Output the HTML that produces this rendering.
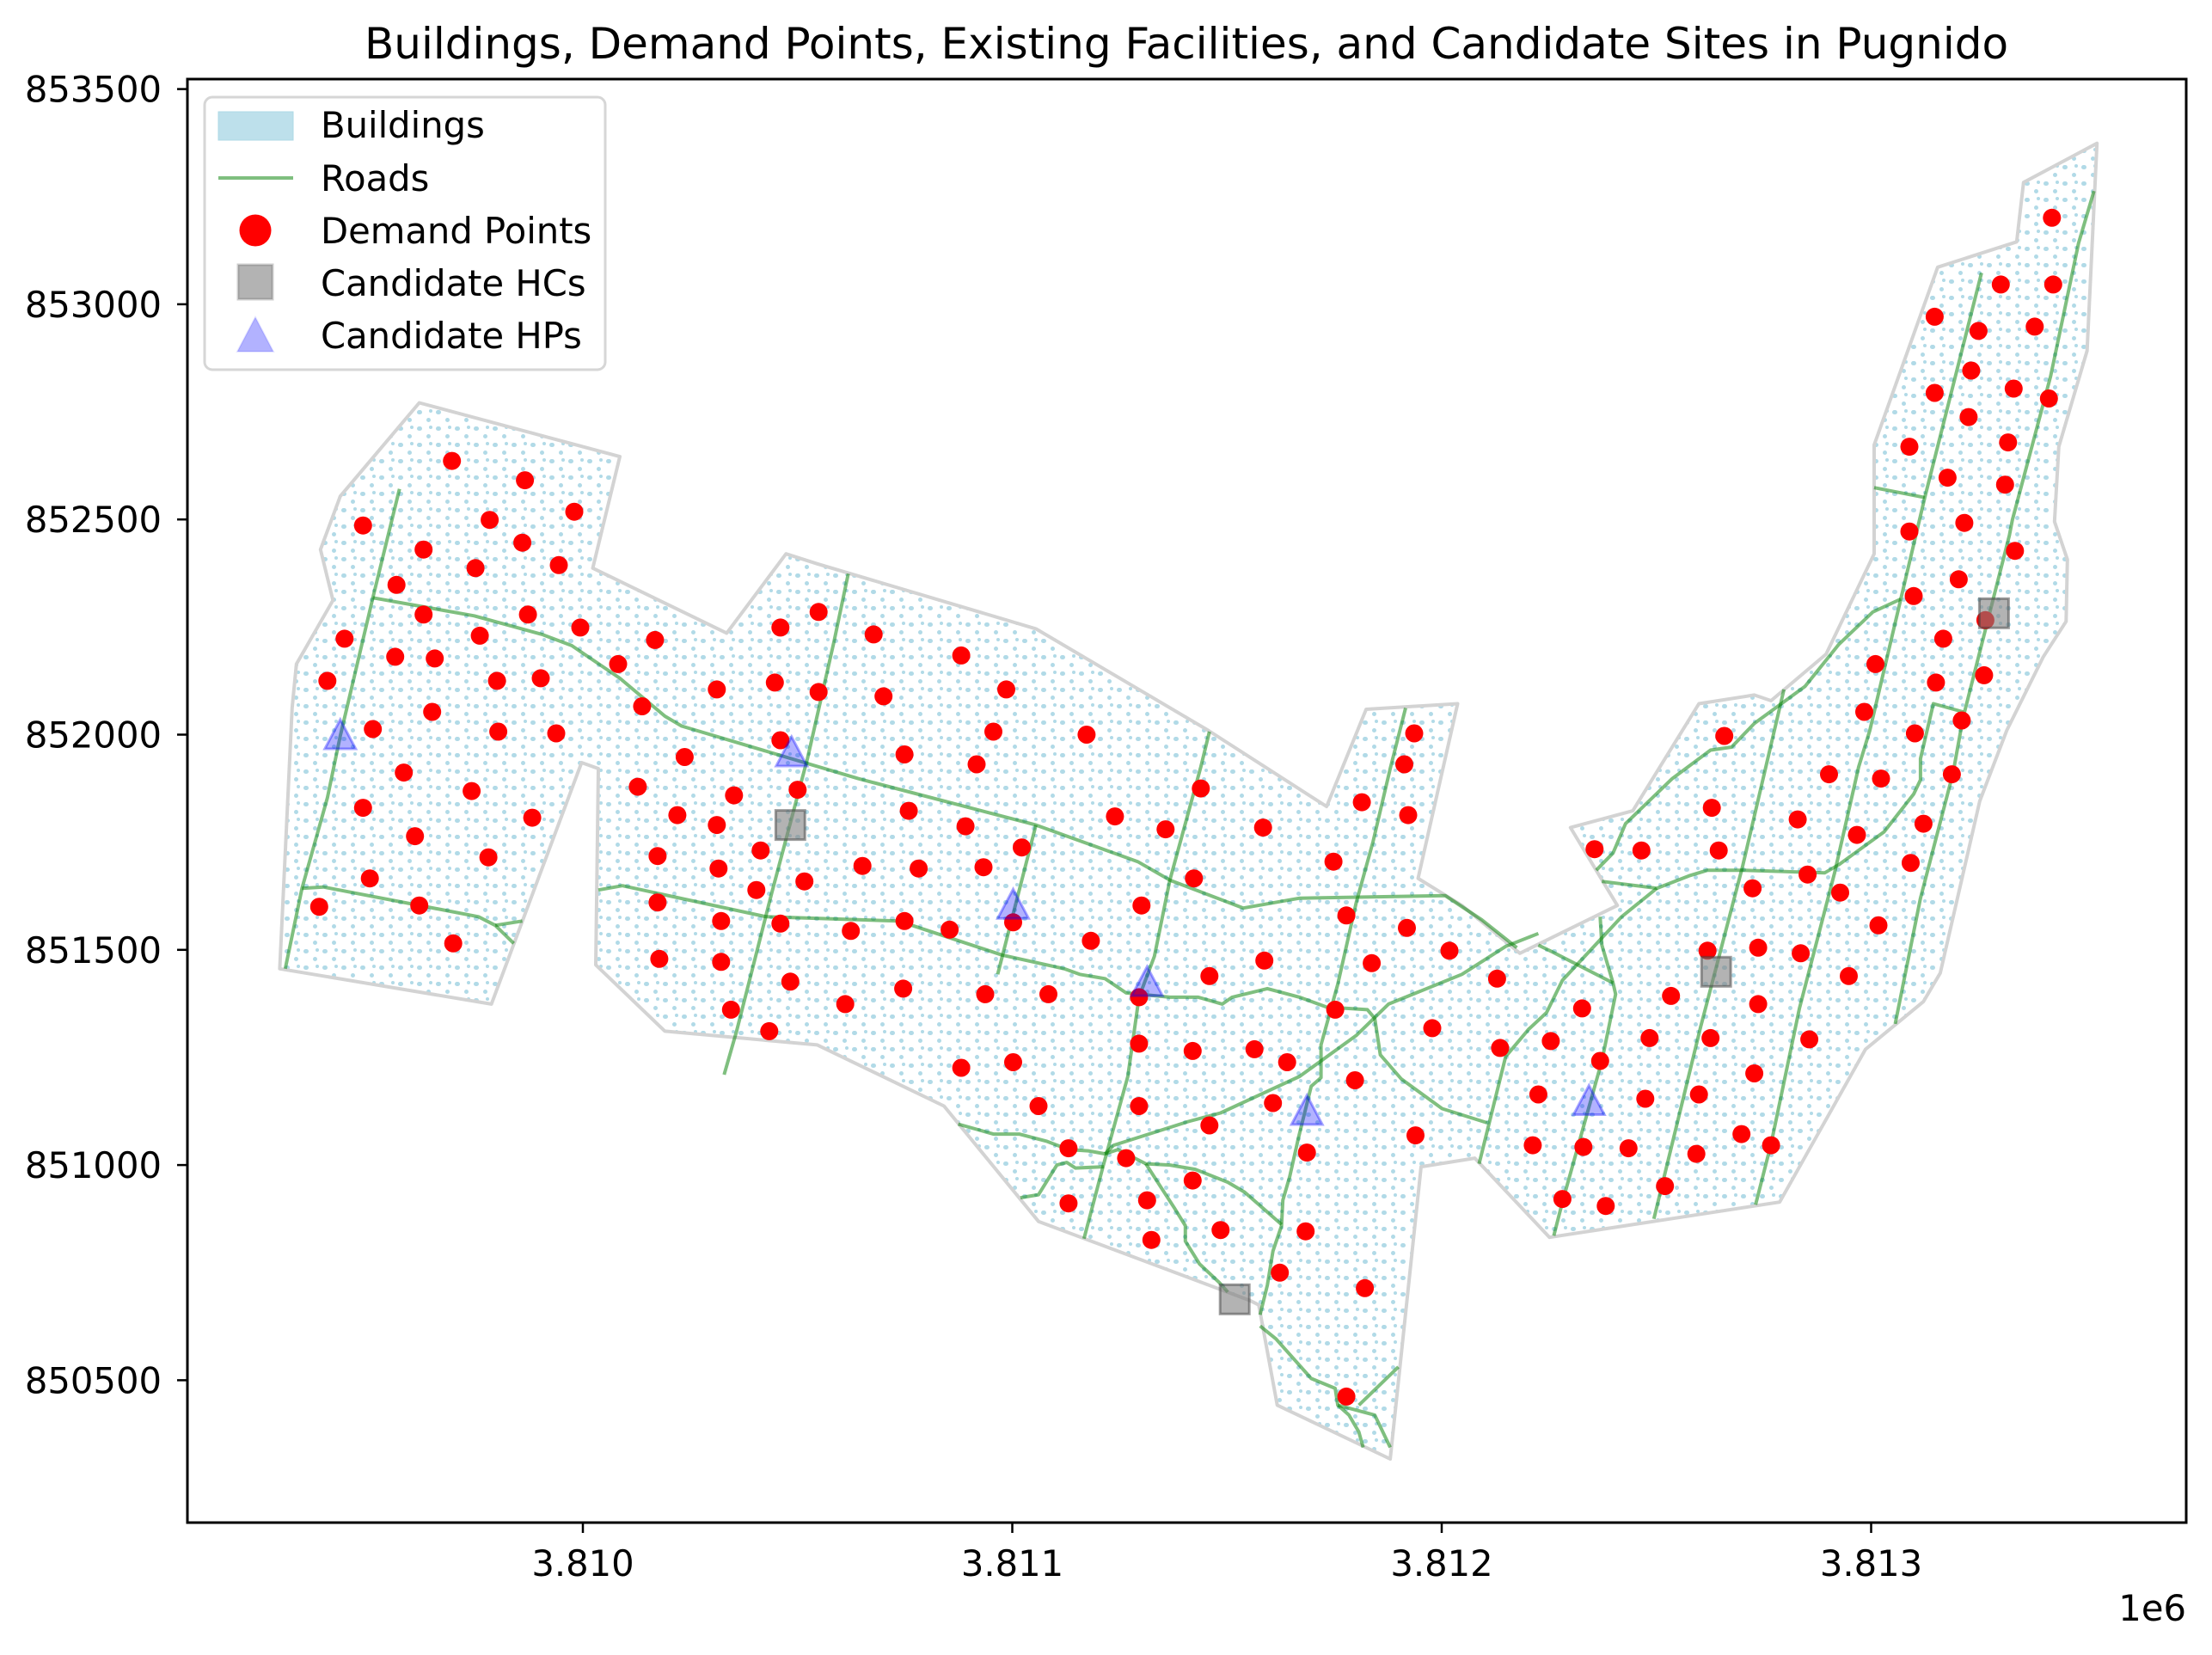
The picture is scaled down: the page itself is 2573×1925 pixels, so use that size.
<!DOCTYPE html>
<html><head><meta charset="utf-8"><title>Pugnido map</title>
<style>
html,body{margin:0;padding:0;background:#fff;}
svg{display:block;font-family:"DejaVu Sans","Liberation Sans",sans-serif;}
</style></head>
<body>
<svg id="chart" width="2573" height="1925" viewBox="0 0 2573 1925" xmlns="http://www.w3.org/2000/svg">
<defs>
<pattern id="bldg" width="22" height="19" patternUnits="userSpaceOnUse">
<rect x="1" y="2" width="6" height="5" rx="2.5" fill="#add8e6"/>
<rect x="12" y="11" width="5" height="5" rx="2.5" fill="#add8e6"/>
<rect x="15" y="1" width="4" height="4" rx="2" fill="#add8e6"/>
</pattern>
<clipPath id="plotclip"><rect x="218" y="92" width="2325" height="1679"/></clipPath>
</defs>
<rect x="0" y="0" width="2573" height="1925" fill="#fff"/>
<text x="1380" y="68" font-size="50" text-anchor="middle" fill="#000">Buildings, Demand Points, Existing Facilities, and Candidate Sites in Pugnido</text>
<g id="plot" clip-path="url(#plotclip)"></g>
<rect x="218" y="92" width="2325" height="1679" fill="none" stroke="#000" stroke-width="3"/>
<g id="axes"></g>
<g>
<rect x="238" y="113" width="466" height="317" rx="9" fill="#fff" fill-opacity="0.8" stroke="#d6d6d6" stroke-width="3"/>
<rect x="254" y="130" width="87" height="33" fill="#add8e6" fill-opacity="0.8" stroke="#add8e6"/>
<text x="373" y="160" font-size="41.7">Buildings</text>
<line x1="254" y1="207" x2="341" y2="207" stroke="#008000" stroke-opacity="0.5" stroke-width="4"/>
<text x="373" y="222" font-size="41.7">Roads</text>
<circle cx="297" cy="268" r="18.5" fill="#ff0000"/>
<text x="373" y="283" font-size="41.7">Demand Points</text>
<rect x="277" y="308" width="40" height="40" fill="#808080" fill-opacity="0.6" stroke="#808080" stroke-opacity="0.4" stroke-width="3"/>
<text x="373" y="344" font-size="41.7">Candidate HCs</text>
<polygon points="297,369 318,409 276,409" fill="#0000ff" fill-opacity="0.3" stroke="#0000ff" stroke-opacity="0.1" stroke-width="2"/>
<text x="373" y="405" font-size="41.7">Candidate HPs</text>
</g>
</svg>
<script>
// Data: eastings are metres offset from E_BASE, northings metres offset from N_BASE
const E_BASE = 3809000;
const N_BASE = 850000;
const xTicks = [3810000, 3811000, 3812000, 3813000];
const xTickLabels = ["3.810", "3.811", "3.812", "3.813"];
const yTicks = [850500, 851000, 851500, 852000, 852500, 853000, 853500];
const yTickLabels = ["850500", "851000", "851500", "852000", "852500", "853000", "853500"];

const boundaryE = [619,1086,1023,1335,1473,1546,2055,2456,2732,2824,3037,2945,3047,3182,3409,3300,3445,3599,3728,3767,3895,4007,4007,4155,4339,4355,4526,4503,4437,4427,4457,4454,4401,4316,4253,4161,4122,3987,3787,3251,3077,2952,2880,2617,2574,2554,2061,1841,1546,1191,1030,1036,997,787,294,323,333,418,389,435];
const boundaryN = [2771,2646,2387,2236,2420,2397,2246,2010,1833,2059,2072,1666,1603,1492,1603,1784,1823,2072,2092,2079,2187,2420,2673,3086,3145,3283,3374,2892,2669,2495,2407,2263,2181,2010,1846,1446,1380,1269,914,832,1016,996,317,442,675,685,869,1137,1279,1311,1465,1921,1935,1374,1456,2062,2164,2312,2430,2554];

const roadsE = [
 [573,511,435,405,346,307],
 [511,747,905,974,1086,1191,1230,1641,2055,2292,2367,2538,2669,3008,3093,3175],
 [346,396,757,796,839],
 [796,859],
 [1036,1092,1427,1736,1976,2121,2157,2216,2265,2367,2433,2489,2512,2594,2669,2732,2827,2844,2857,2906,3001,3106],
 [1618,1585,1523,1440,1358,1329],
 [2055,1966],
 [2459,2439,2367,2331,2295,2269,2213,2167],
 [2916,2880,2840,2801,2758,2719,2719,2696,2666,2646,2630,2627,2607,2594,2577],
 [3225,3149,3047,2876,2801,2669,2485,2410,2236,2216],
 [3360,3399,3428,3537,3626,3675,3728,3846,3925,4004,4069],
 [3373,3501,3576,3619,3701,3892,3925,4030,4099,4115,4115,4145,4214],
 [3501,3419,3281,3244,3202,3149,3087],
 [3797,3701,3603,3494],
 [4257,4125,4069,3997,3971,3915,3833,3767,3731],
 [4519,4483,4418,4329,4322,4214,4191,4115,4056],
 [4007,4125],
 [3369,3373,3399,3405,3373,3281,3261],
 [3225,3258,3399],
 [1874,1956,2016,2081,2131,2177,2216,2246,2311,2367,2426,2502,2541,2627],
 [2311,2347,2377,2403,2403,2436,2482,2502],
 [2019,2061,2104,2127,2147,2213],
 [2577,2614,2696,2752,2758,2784,2807,2817],
 [2758,2844,2880],
 [2807,2899]
];
const roadsN = [
 [2571,2318,1997,1853,1643,1456],
 [2318,2276,2233,2207,2131,2043,2020,1898,1790,1705,1662,1597,1620,1626,1570,1505],
 [1643,1646,1577,1557,1515],
 [1557,1567],
 [1639,1649,1577,1567,1488,1456,1443,1433,1400,1390,1390,1374,1390,1410,1390,1367,1361,1341,1256,1200,1131,1098],
 [2374,2217,1944,1633,1311,1210],
 [1790,1443],
 [2007,1925,1662,1485,1390,1206,1003,829],
 [2062,1921,1751,1610,1420,1279,1203,1183,1062,973,918,859,800,721,652],
 [1538,1508,1443,1374,1301,1206,1121,1101,1046,1026],
 [1685,1725,1793,1898,1964,1971,2026,2112,2210,2285,2315],
 [1659,1643,1672,1685,1685,1679,1698,1774,1862,1895,1944,2072,2053],
 [1643,1577,1429,1354,1315,1252,1003],
 [2105,1695,1321,875],
 [3073,2551,2315,2010,1925,1679,1364,1049,908],
 [3263,3142,2833,2499,2463,2039,1912,1620,1328],
 [2574,2551],
 [1577,1511,1423,1397,1242,914,836],
 [1511,1495,1423],
 [1095,1072,1072,1055,1036,1033,1026,1036,1003,1000,990,960,937,862],
 [1003,947,901,859,823,770,727,705],
 [924,931,1000,1006,993,996],
 [626,596,504,481,442,419,380,344],
 [442,419,344],
 [442,531]
];

const demandE = [695,865,980,488,783,859,629,750,944,566,629,872,994,760,445,563,655,800,902,405,649,511,803,938,583,741,488,882,609,780,504,619,386,698,
1082,1168,1460,1549,1677,1881,1986,1138,1312,1447,1549,1700,1956,2173,1749,1917,1237,1460,1128,1352,1500,1220,1312,1759,1891,2022,1651,1782,1933,1414,1174,1316,1516,1404,1174,1322,1460,1749,2002,1624,1854,1178,1322,1483,1746,1937,2084,1611,1345,1434,1881,2002,2061,2131,2265,2131,2314,2324,2420,2485,2459,2295,2295,2295,2301,2239,2357,2439,2423,2584,2183,2459,2587,2420,2564,2640,2607,2686,2798,2752,2683,2623,2821,2778,2748,2778,2837,2919,3018,2814,2922,2913,2936,2978,2939,3129,
3136,3225,3212,3254,3327,3369,3330,3435,3281,3382,3474,3484,3534,3520,3593,3599,3626,3698,3767,3728,3737,3619,3737,3836,3856,3948,3724,3852,3928,4017,3629,3829,3967,4122,4092,3356,3465,3645,3658,3902,4023,4188,4102,3984,4211,4010,4151,4263,4168,4099,4204,4266,4335,4089,4217,4312,4178,4089,4319,4227,4148,4414,4332,4233,4250,4381,4148,4302,4424,4421];
const demandN = [2636,2591,2518,2486,2499,2446,2430,2387,2394,2348,2279,2279,2249,2230,2223,2181,2177,2125,2131,2125,2053,2013,2007,2003,1912,1869,1830,1807,1764,1715,1666,1603,1600,1515,
2164,2220,2249,2285,2233,2184,2105,2066,2105,2121,2099,2089,2007,2000,1954,1931,1948,1987,1879,1859,1872,1813,1790,1823,1787,1738,1695,1689,1692,1731,1718,1689,1659,1639,1610,1567,1561,1567,1564,1544,1547,1479,1472,1426,1410,1397,1397,1374,1361,1311,1226,1239,1137,1039,1016,911,918,826,964,849,1092,1137,1282,1390,1603,1810,1780,1875,1666,1784,1521,1439,1475,1265,1269,1239,1144,1029,1197,1361,846,750,714,462,1705,1580,1469,1551,1498,1843,1813,1931,2003,1318,1069,1433,
1272,1164,1046,1288,1364,1242,1042,1039,921,905,1154,1295,1393,951,1026,1164,1295,1072,1046,1213,1374,1498,1505,1492,1292,1439,1643,1675,1633,1557,1830,1803,1767,1793,1702,1734,1731,1731,1997,1908,1898,1908,2003,2053,2033,2164,2121,2138,2223,2322,2361,2266,2427,2472,2492,2581,2597,2669,2679,2738,2794,2781,2804,2846,2938,2948,2971,3046,3046,3201];

const hcE = [1483,2518,3639,4286];
const hcN = [1790,688,1449,2282];
const hpE = [435,1486,2002,2314,2686,3343];
const hpN = [1997,1957,1603,1423,1124,1147];

// axis functions
function xScale(e){ return 678 + (e - 3810000) * 0.4995; }
function yScale(n){ return 854.5 - (n - 852000) * 0.5006; }
function X(off){ return xScale(E_BASE + off); }
function Y(off){ return yScale(N_BASE + off); }

const NS = "http://www.w3.org/2000/svg";
const plot = document.getElementById('plot');
const axes = document.getElementById('axes');
function mk(tag, attrs, parent){
  const el = document.createElementNS(NS, tag);
  for (const k in attrs) el.setAttribute(k, attrs[k]);
  parent.appendChild(el);
  return el;
}

// buildings (textured area within study boundary) and boundary
let bpts = boundaryE.map((e,i)=>X(e).toFixed(1)+','+Y(boundaryN[i]).toFixed(1)).join(' ');
const bfill = mk('polygon', {points:bpts, fill:'url(#bldg)', 'fill-opacity':'0.95', stroke:'none'}, plot);


const bline = mk('polygon', {points:bpts, fill:'none', stroke:'#d3d3d3', 'stroke-width':'4', 'stroke-linejoin':'round'}, plot);



// roads
for (let r = 0; r < roadsE.length; r++){
  const pts = roadsE[r].map((e,i)=>X(e).toFixed(1)+','+Y(roadsN[r][i]).toFixed(1)).join(' ');
  const pl = mk('polyline', {points:pts, fill:'none', stroke:'#008000', 'stroke-opacity':'0.5', 'stroke-width':'4', 'stroke-linejoin':'round', 'stroke-linecap':'butt'}, plot);
  
  
}

// demand points
for (let i = 0; i < demandE.length; i++){
  const c = mk('circle', {cx:X(demandE[i]).toFixed(1), cy:Y(demandN[i]).toFixed(1), r:'10.5', fill:'#ff0000'}, plot);
  
  
}

// candidate HCs
for (let i = 0; i < hcE.length; i++){
  const cx = X(hcE[i]), cy = Y(hcN[i]);
  const s = mk('rect', {x:(cx-17).toFixed(1), y:(cy-17).toFixed(1), width:'34', height:'34', fill:'#808080', 'fill-opacity':'0.6', stroke:'#404040', 'stroke-opacity':'0.5', 'stroke-width':'3'}, plot);
  
  
}

// candidate HPs
for (let i = 0; i < hpE.length; i++){
  const cx = X(hpE[i]), cy = Y(hpN[i]);
  const pts = cx.toFixed(1)+','+(cy-19).toFixed(1)+' '+(cx+18).toFixed(1)+','+(cy+15).toFixed(1)+' '+(cx-18).toFixed(1)+','+(cy+15).toFixed(1);
  const t = mk('polygon', {points:pts, fill:'#0000ff', 'fill-opacity':'0.3', stroke:'#0000ff', 'stroke-opacity':'0.35', 'stroke-width':'3'}, plot);
  
  
}

// x ticks
for (let i = 0; i < xTicks.length; i++){
  const x = xScale(xTicks[i]);
  const tk = mk('line', {x1:x, y1:1771, x2:x, y2:1783, stroke:'#000', 'stroke-width':'2.5'}, axes);
  
  
  const lb = mk('text', {x:x, y:1833, 'font-size':'41.7', 'text-anchor':'middle', fill:'#000'}, axes);
  lb.textContent = xTickLabels[i];
  
  
}
const off = mk('text', {x:2543, y:1885, 'font-size':'41.7', 'text-anchor':'end', fill:'#000'}, axes);
off.textContent = '1e6';



// y ticks
for (let i = 0; i < yTicks.length; i++){
  const y = yScale(yTicks[i]);
  const tk = mk('line', {x1:206, y1:y, x2:218, y2:y, stroke:'#000', 'stroke-width':'2.5'}, axes);
  
  
  const lb = mk('text', {x:188, y:y+15, 'font-size':'41.7', 'text-anchor':'end', fill:'#000'}, axes);
  lb.textContent = yTickLabels[i];
  
  
}
</script>
</body></html>
